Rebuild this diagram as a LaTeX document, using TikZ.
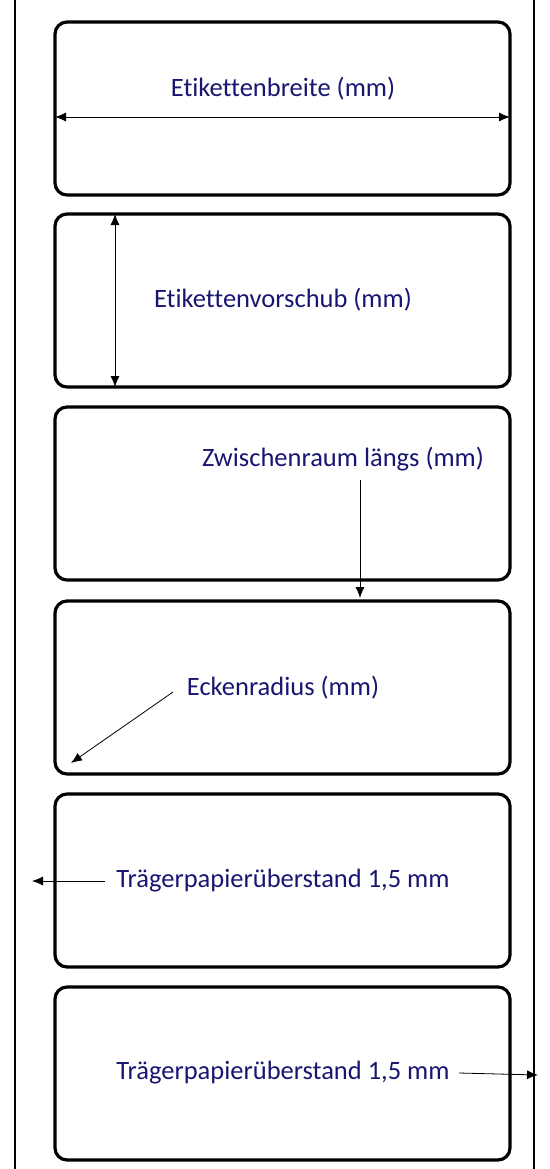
\documentclass[tikz,border=0pt]{standalone}
\usepackage{fontspec}
\setmainfont[Ligatures=NoCommon]{Carlito}
\usepackage{tikz}
\usetikzlibrary{arrows.meta}
\definecolor{labelblue}{RGB}{24,22,112}

\begin{document}
\begin{tikzpicture}[x=1pt,y=-1pt,
	etikett/.style={shape=rectangle,draw=black,line width=3.2pt,rounded corners=12pt,minimum width=455pt,minimum height=173pt,inner sep=0pt},
	txt/.style={text=labelblue,font=\fontsize{26.5}{30}\selectfont,inner sep=0pt},
	pfeil/.style={-{Latex[length=11pt,width=9pt]},line width=0.8pt},
	doppelpfeil/.style={{Latex[length=11pt,width=9pt]}-{Latex[length=11pt,width=9pt]},line width=0.8pt}]
	
	\useasboundingbox (0,0) rectangle (549,1169);
	
	% Traegerpapier
	\draw[line width=2pt] (15,0) -- (15,1169);
	\draw[line width=2pt] (534,0) -- (534,1169);
	
	% Etiketten
	\node[etikett] (e1) at (282.5, 108.5) {};
	\node[etikett] (e2) at (282.5, 300.5) {};
	\node[etikett] (e3) at (282.5, 493.5) {};
	\node[etikett] (e4) at (282.5, 687.5) {};
	\node[etikett] (e5) at (282.5, 880.5) {};
	\node[etikett] (e6) at (282.5, 1073.5) {};
	
	\node[txt] (breite) at (283, 89)     {Etikettenbreite (mm)};
	\node[txt] (vorschub) at (283, 300)  {Etikettenvorschub (mm)};
	\node[txt] (zwischen) at (343, 459)  {Zwischenraum längs (mm)};
	\node[txt] (ecke) at (283, 688)      {Eckenradius (mm)};
	\node[txt] (ueberl) at (283, 881)    {Trägerpapierüberstand 1,5 mm};
	\node[txt] (ueberr) at (283, 1073)   {Trägerpapierüberstand 1,5 mm};
	
	\coordinate (bl) at (55, 117);
	\coordinate (br) at (510, 117);
	\coordinate (vo) at (115, 214);
	\coordinate (vu) at (115, 387);
	\coordinate (zo) at (360, 480);
	\coordinate (zu) at (360, 598);
	\coordinate (ea) at (173, 692);
	\coordinate (eb) at (71, 763);
	\coordinate (la) at (105, 881);
	\coordinate (lb) at (32, 881);
	\coordinate (ra) at (459, 1073);
	\coordinate (rb) at (538, 1075);
	
	\path[doppelpfeil] (bl) edge (br);
	\path[doppelpfeil] (vo) edge (vu);
	\path[pfeil] (zo) edge (zu);
	\path[pfeil] (ea) edge (eb);
	\path[pfeil] (la) edge (lb);
	\path[pfeil] (ra) edge (rb);
\end{tikzpicture}
\end{document}
